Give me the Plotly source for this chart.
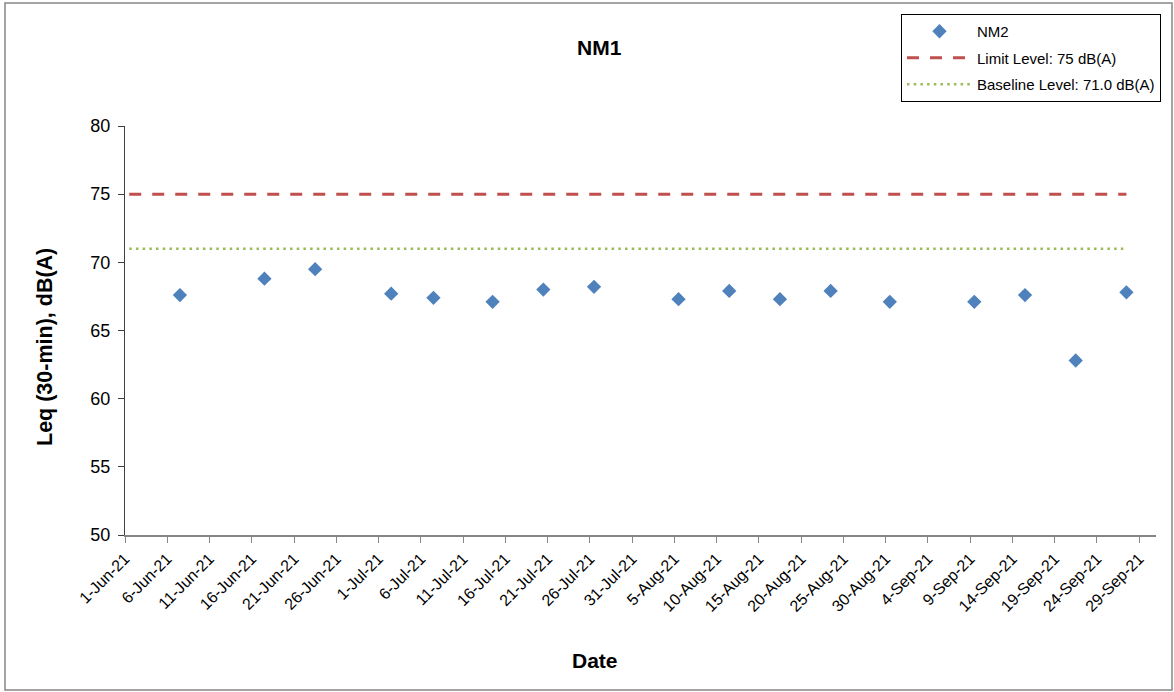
import pandas as pd
import plotly.graph_objects as go

# ---- data ----
dates = ["2021-06-07", "2021-06-17", "2021-06-23", "2021-07-02", "2021-07-07",
         "2021-07-14", "2021-07-20", "2021-07-26", "2021-08-05", "2021-08-11",
         "2021-08-17", "2021-08-23", "2021-08-30", "2021-09-09", "2021-09-15",
         "2021-09-21", "2021-09-27"]
leq = [67.6, 68.8, 69.5, 67.7, 67.4, 67.1, 68.0, 68.2, 67.3, 67.9,
       67.3, 67.9, 67.1, 67.1, 67.6, 62.8, 67.8]
limit_level = 75
baseline_level = 71.0
line_dates = ["2021-06-01", "2021-09-27"]

series_name = "NM2"
limit_name = "Limit Level: 75 dB(A)"
baseline_name = "Baseline Level: 71.0 dB(A)"
title_text = "NM1"
x_title = "Date"
y_title = "Leq (30-min), dB(A)"

# Excel date axis places points in the middle of each day
half_day = pd.Timedelta(hours=12)
x_pts = pd.to_datetime(dates) + half_day
x_line = pd.to_datetime(line_dates) + half_day

FONT = "Liberation Sans, Arial, sans-serif"
W, H = 1174, 692
ML, MR, MT, MB = 125, 18, 126, 157
PW, PH = W - ML - MR, H - MT - MB


def px(xp):
    return (xp - ML) / PW


def py(yp):
    return (H - MB - yp) / PH


fig = go.Figure()
fig.add_trace(go.Scatter(
    x=x_pts, y=leq, mode="markers", name=series_name, legendgroup="a",
    marker=dict(symbol="diamond", size=11, color="#4F81BD",
                line=dict(width=0))))
fig.add_trace(go.Scatter(
    x=x_line, y=[limit_level] * len(x_line), mode="lines", name=limit_name,
    legendgroup="b",
    line=dict(color="#C0504D", width=3, dash="12px,11px")))
fig.add_trace(go.Scatter(
    x=x_line, y=[baseline_level] * len(x_line), mode="lines",
    name=baseline_name, legendgroup="c",
    line=dict(color="#9BBB59", width=2.5, dash="2.5px,4.2px")))

fig.update_layout(
    width=W, height=H,
    margin=dict(l=ML, r=MR, t=MT, b=MB),
    paper_bgcolor="white", plot_bgcolor="white",
    font=dict(family=FONT, color="black"),
    showlegend=True,
    legend=dict(
        x=px(901), y=py(14), xanchor="left", yanchor="top",
        bgcolor="white", bordercolor="black", borderwidth=1,
        font=dict(size=15, family=FONT), tracegroupgap=4,
        itemwidth=65),
    xaxis=dict(
        type="date",
        range=["2021-06-01", "2021-10-01"],
        tick0="2021-06-01", dtick=5 * 86400000,
        tickformat="%-d-%b-%y", tickangle=-45,
        tickfont=dict(size=16, family=FONT),
        ticks="outside", ticklen=6, tickcolor="#868686",
        showline=True, linecolor="#868686", linewidth=2,
        showgrid=False, zeroline=False, fixedrange=True),
    yaxis=dict(
        range=[50, 80], dtick=5,
        tickfont=dict(size=18, family=FONT),
        ticks="outside", ticklen=6, tickcolor="#404040",
        ticklabelstandoff=4,
        showline=True, linecolor="#404040", linewidth=1,
        showgrid=False, zeroline=False, fixedrange=True),
    shapes=[dict(type="rect", xref="paper", yref="paper",
                 x0=px(5), x1=px(1172), y0=py(690), y1=py(3),
                 line=dict(color="#868686", width=1.5),
                 fillcolor="rgba(0,0,0,0)", layer="below")],
    annotations=[
        dict(text="<b>%s</b>" % title_text, xref="paper", yref="paper",
             x=px(599), y=py(48), xanchor="center", yanchor="middle",
             showarrow=False, font=dict(size=21, family=FONT)),
        dict(text="<b>%s</b>" % x_title, xref="paper", yref="paper",
             x=px(595), y=py(660), xanchor="center", yanchor="middle",
             showarrow=False, font=dict(size=21, family=FONT)),
        dict(text="<b>%s</b>" % y_title, xref="paper", yref="paper",
             x=px(45), y=py(347), xanchor="center", yanchor="middle",
             textangle=-90, showarrow=False,
             font=dict(size=21.5, family=FONT)),
    ],
)

fig.write_html("out.html",
               config={"displayModeBar": False},
               post_script="document.body.style.margin='0';"
                           "document.body.style.overflow='hidden';")
